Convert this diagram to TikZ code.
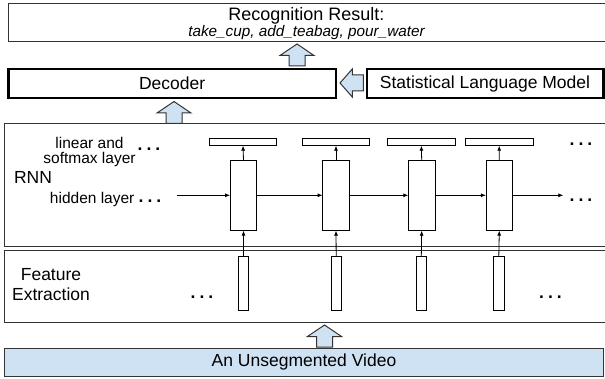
\documentclass[tikz,border=0pt]{standalone}
\usepackage{fontspec}
\setmainfont{Liberation Sans}
\usetikzlibrary{arrows.meta}

\definecolor{lightblue}{HTML}{CFE2F3}
\definecolor{edgegray}{HTML}{333333}

\tikzset{
    box/.style={draw=edgegray, line width=1pt, inner sep=0pt, outer sep=0pt, anchor=north west},
    thickbox/.style={box, draw=black, line width=2.4pt},
    hidbox/.style={draw, line width=.8pt, inner sep=0pt, outer sep=0pt, minimum width=26.7pt, minimum height=70.7pt},
    outbox/.style={draw, line width=.8pt, inner sep=0pt, outer sep=0pt, minimum width=67.5pt, minimum height=7.4pt},
    featbox/.style={draw, line width=.8pt, inner sep=0pt, outer sep=0pt, minimum width=10.5pt, minimum height=54pt},
    smalltxt/.style={font=\fontsize{15.5}{15}\selectfont, align=center, inner sep=0pt},
    bigtxt/.style={font=\fontsize{17.5}{20}\selectfont, align=center, inner sep=0pt},
    dots/.style={font=\fontsize{17.5}{20}\selectfont\bfseries, inner sep=0pt},
    conn/.style={line width=.8pt, -{Latex[length=5pt,width=4pt]}},
    blockarrow/.style={draw=edgegray, fill=lightblue, line width=1pt, line join=miter},
    uparrow/.pic={\draw[blockarrow] (-8,0) -- (-8,-10.5) -- (-17,-10.5) -- (0,-22) -- (17,-10.5) -- (8,-10.5) -- (8,0) -- cycle;},
    leftarrow/.pic={\draw[blockarrow] (0,8) -- (-11,8) -- (-11,14) -- (-23.3,0) -- (-11,-14) -- (-11,-8) -- (0,-8) -- cycle;}
}

\begin{document}
\begin{tikzpicture}[x=1pt, y=-1pt, font=\fontsize{17.5}{20}\selectfont]
            \useasboundingbox (0,0) rectangle (605,379);
            % Outer boxes:
                \node[box, minimum width=600pt, minimum height=38pt] (resbox) at (8.3,4) {};
                \node[bigtxt, font=\fontsize{18}{20}\selectfont] (restitle) at (306.5,16) {Recognition Result:};
                \node[smalltxt, font=\fontsize{15.3}{18}\selectfont\itshape] (reslist) at (306.5,33) {take\_cup, add\_teabag, pour\_water};
                \node[thickbox, minimum width=327.7pt, minimum height=29.3pt] (dec) at (8.3,69) {Decoder};
                \node[thickbox, minimum width=236.6pt, minimum height=29.3pt] (slm) at (366.7,69) {Statistical Language Model};
                \node[box, minimum width=604pt, minimum height=122.5pt] (rnnbox) at (4.5,124) {};
                \node[box, minimum width=604pt, minimum height=71.3pt] (featarea) at (4.5,251) {};
                \node[box, fill=lightblue, minimum width=599pt, minimum height=28.3pt] (video) at (4.5,348.3) {An Unsegmented Video};
            % Block arrows:
                \pic at (297,66) {uparrow};
                \pic at (174,123.5) {uparrow};
                \pic at (324.5,347) {uparrow};
                \pic at (363.3,83) {leftarrow};
            % Labels:
                \node[smalltxt] (lsm) at (89.5,152) {linear and\\softmax layer};
                \node[bigtxt] (rnn) at (33,177) {RNN};
                \node[smalltxt] (hl) at (92.2,199.5) {hidden layer};
                \node[bigtxt] (fe) at (51,285) {Feature\\Extraction};
                \node[dots] (d1) at (149,149) {.\hspace{4pt}.\hspace{4pt}.};
                \node[dots] (d2) at (150,201) {.\hspace{4pt}.\hspace{4pt}.};
                \node[dots] (d3) at (581,144.3) {.\hspace{4pt}.\hspace{4pt}.};
                \node[dots] (d4) at (581,200) {.\hspace{4pt}.\hspace{4pt}.};
                \node[dots] (d5) at (202,297.3) {.\hspace{4pt}.\hspace{4pt}.};
                \node[dots] (d6) at (550.5,297.3) {.\hspace{4pt}.\hspace{4pt}.};
            % RNN cells:
                \node[outbox] (o1) at (243,142) {};
                \node[outbox] (o2) at (336,142) {};
                \node[outbox] (o3) at (421.3,142) {};
                \node[outbox] (o4) at (499.2,142) {};
                \node[hidbox] (h1) at (243.5,195.3) {};
                \node[hidbox] (h2) at (336,195.3) {};
                \node[hidbox] (h3) at (421.7,195.3) {};
                \node[hidbox] (h4) at (499.3,195.3) {};
                \node[featbox] (f1) at (243.5,283.6) {};
                \node[featbox] (f2) at (336.2,283.6) {};
                \node[featbox] (f3) at (421.3,283.6) {};
                \node[featbox] (f4) at (498.8,283.6) {};
            % Wires:
                \coordinate (hin) at (177,195.3);
                \coordinate (hout) at (563.3,195.3);
                \draw[conn] (hin) -- (h1.west);
                \draw[conn] (h1.east) -- (h2.west);
                \draw[conn] (h2.east) -- (h3.west);
                \draw[conn] (h3.east) -- (h4.west);
                \draw[conn] (h4.east) -- (hout);
                \draw[conn] (h1.north) -- (o1.south);
                \draw[conn] (h2.north) -- (o2.south);
                \draw[conn] (h3.north) -- (o3.south);
                \draw[conn] (h4.north) -- (o4.south);
                \draw[conn] (f1.north) -- (h1.south);
                \draw[conn] (f2.north) -- (h2.south);
                \draw[conn] (f3.north) -- (h3.south);
                \draw[conn] (f4.north) -- (h4.south);
            \end{tikzpicture}
\end{document}
